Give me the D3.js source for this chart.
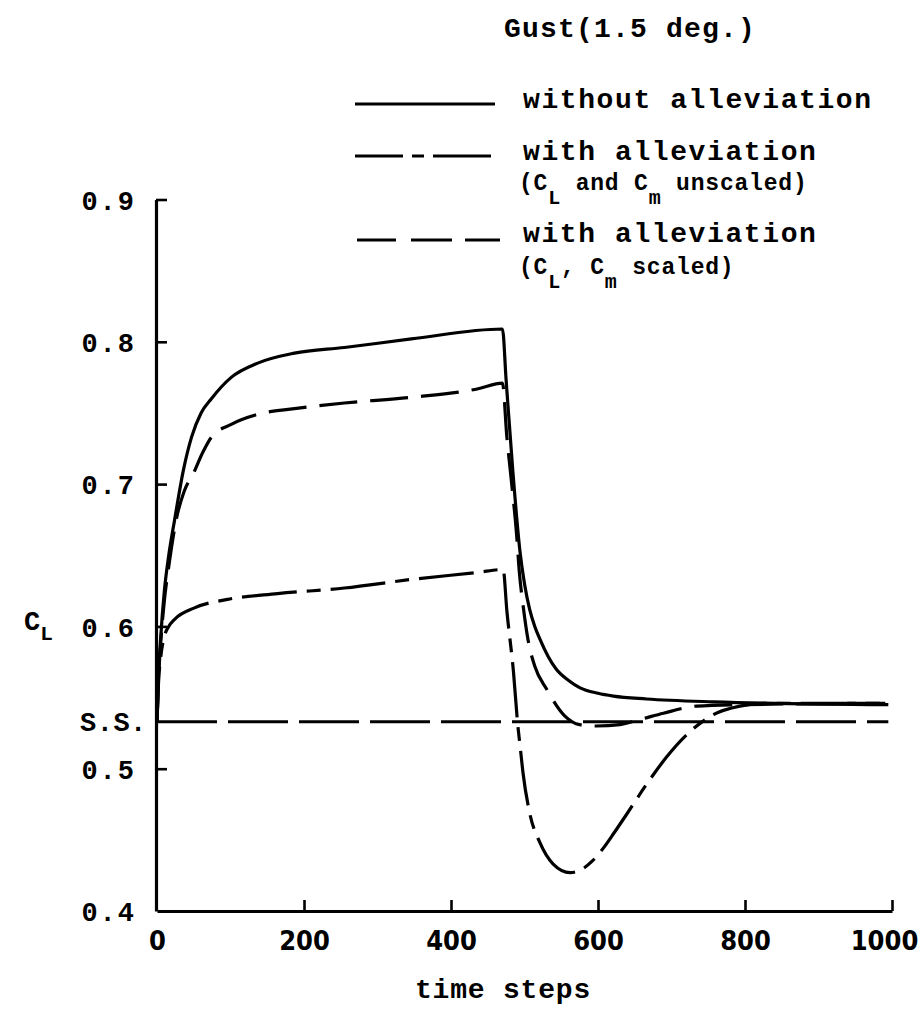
<!DOCTYPE html>
<html>
<head>
<meta charset="utf-8">
<script src="https://cdn.jsdelivr.net/npm/d3@7/dist/d3.min.js"></script>
<style>
  html, body { margin: 0; padding: 0; background: #fff; }
  svg { display: block; }
  .mono { font-family: "Liberation Mono", "DejaVu Sans Mono", monospace; font-weight: bold; fill: #000; }
</style>
</head>
<body>
<svg id="chart" width="919" height="1012"></svg>
<script>
// ---------- data ----------
const xTicks = [0, 200, 400, 600, 800, 1000];
const yTicks = [0.4, 0.5, 0.6, 0.7, 0.8, 0.9];
const steadyState = 0.533;   // "S.S." reference level

// without alleviation (solid)
const withoutAlleviation = [
  [0,0.533],[2,0.565],[5,0.592],[10,0.625],[16,0.65],[24,0.675],[36,0.71],[47,0.733],
  [60,0.75],[74,0.76],[101,0.775],[137,0.785],[187,0.792],[255,0.796],[346,0.802],[470,0.809],
  [475,0.773],[484,0.71],[494,0.652],[500,0.630],[507,0.612],[514,0.600],[521,0.591],
  [532,0.579],[543,0.570],[560,0.562],[575,0.557],[600,0.553],[621,0.551],[666,0.549],
  [757,0.547],[995,0.545]
];
// with alleviation, CL and Cm unscaled (dash-dot)
const withAlleviationUnscaled = [
  [0,0.533],[2,0.56],[5,0.578],[10,0.593],[16,0.600],[24,0.605],[51,0.613],[96,0.619],
  [164,0.623],[255,0.627],[346,0.633],[437,0.638],[471,0.640],[476,0.611],[485,0.568],
  [491,0.530],[494,0.516],[498,0.497],[507,0.469],[521,0.448],[539,0.433],[562,0.427],
  [577,0.429],[592,0.435],[607,0.444],[622,0.455],[639,0.468],[666,0.489],[693,0.508],
  [721,0.524],[757,0.538],[793,0.544],[830,0.546],[995,0.546]
];
// with alleviation, CL, Cm scaled (long dash)
const withAlleviationScaled = [
  [0,0.533],[2,0.562],[5,0.588],[10,0.618],[16,0.642],[27,0.677],[37,0.695],[50,0.708],
  [62,0.722],[74,0.733],[101,0.742],[137,0.749],[187,0.753],[255,0.757],[346,0.761],
  [437,0.767],[470,0.771],[476,0.733],[482,0.703],[489,0.666],[493,0.638],[498,0.615],
  [505,0.59],[514,0.572],[530,0.556],[555,0.537],[575,0.531],[598,0.530],[630,0.531],
  [660,0.535],[689,0.539],[734,0.544],[793,0.545],[995,0.546]
];

// ---------- chart ----------
const svg = d3.select("#chart");
const x = d3.scaleLinear().domain([0, 1000]).range([157, 892]);
const y = d3.scaleLinear().domain([0.4, 0.9]).range([911, 199.5]);

// axes
const yAxis = d3.axisLeft(y).tickValues(yTicks).tickFormat(d3.format(".1f"))
  .tickSizeInner(-11).tickSizeOuter(0).tickPadding(20);
const xAxis = d3.axisBottom(x).tickValues(xTicks).tickFormat(d3.format("d"))
  .tickSizeInner(-11).tickSizeOuter(0).tickPadding(20);

const gy = svg.append("g").attr("transform", "translate(156,0)").call(yAxis);
const gx = svg.append("g").attr("transform", "translate(0,911)").call(xAxis);

[gx, gy].forEach(g => {
  g.select(".domain").attr("stroke", "#000").attr("stroke-width", 3.2);
  g.selectAll(".tick line").attr("stroke", "#000").attr("stroke-width", 2.6);
});
gy.selectAll(".tick line").filter(d => d === 0.4).remove();
gx.selectAll(".tick line").filter(d => d === 0).remove();

gy.selectAll(".tick text")
  .attr("class", "mono")
  .attr("font-size", 27)
  .attr("letter-spacing", 2)
  .attr("dy", "0.36em");
gx.selectAll(".tick text")
  .attr("font-family", "'DejaVu Sans Condensed', 'Liberation Sans Narrow', 'DejaVu Sans', sans-serif")
  .attr("font-weight", "bold")
  .attr("font-size", 27)
  .attr("fill", "#000")
  .attr("dx", d => d === 1000 ? -8 : 0);

// S.S. label
svg.append("text").attr("class", "mono")
  .attr("x", 80).attr("y", y(steadyState)).attr("dy", "0.36em")
  .attr("font-size", 27).attr("letter-spacing", 0.5)
  .text("S.S.");

// lines
const line = d3.line().x(d => x(d[0])).y(d => y(d[1])).curve(d3.curveMonotoneX);

svg.append("line")
  .attr("x1", x(0)).attr("x2", x(995))
  .attr("y1", y(steadyState)).attr("y2", y(steadyState))
  .attr("stroke", "#000").attr("stroke-width", 3.2)
  .attr("stroke-dasharray", "60,11");

const series = [
  { data: withoutAlleviation, dash: null },
  { data: withAlleviationScaled, dash: "38,13" },
  { data: withAlleviationUnscaled, dash: "55,10,14,10" }
];
series.forEach(s => {
  svg.append("path")
    .attr("d", line(s.data))
    .attr("fill", "none")
    .attr("stroke", "#000")
    .attr("stroke-width", 3.2)
    .attr("stroke-linejoin", "round")
    .attr("stroke-dasharray", s.dash);
});

// axis titles
const yl = svg.append("text").attr("class", "mono").attr("x", 24).attr("y", 630).attr("font-size", 27);
yl.append("tspan").text("C");
yl.append("tspan").attr("font-size", 21).attr("dy", 10).text("L");

svg.append("text").attr("class", "mono")
  .attr("x", 503).attr("y", 998).attr("text-anchor", "middle")
  .attr("font-size", 28).attr("letter-spacing", 0.8)
  .text("time steps");

// title
svg.append("text").attr("class", "mono")
  .attr("x", 504).attr("y", 37).attr("font-size", 28).attr("letter-spacing", 1.2)
  .text("Gust(1.5 deg.)");

// legend
const legendLines = [
  { x1: 355, x2: 495, y: 104, dash: null },
  { x1: 355, x2: 491, y: 156, dash: "48,9,12,9,60" },
  { x1: 357, x2: 500, y: 240, dash: "39,15,41,13,35" }
];
legendLines.forEach(l => {
  svg.append("line").attr("x1", l.x1).attr("x2", l.x2).attr("y1", l.y).attr("y2", l.y)
    .attr("stroke", "#000").attr("stroke-width", 3.2).attr("stroke-dasharray", l.dash);
});

svg.append("text").attr("class", "mono").attr("x", 523).attr("y", 108)
  .attr("font-size", 28).attr("letter-spacing", 1.6).text("without alleviation");
svg.append("text").attr("class", "mono").attr("x", 523).attr("y", 160)
  .attr("font-size", 28).attr("letter-spacing", 1.6).text("with alleviation");
svg.append("text").attr("class", "mono").attr("x", 523).attr("y", 242)
  .attr("font-size", 28).attr("letter-spacing", 1.6).text("with alleviation");

function subLabel(xp, yp, parts) {
  const t = svg.append("text").attr("class", "mono").attr("x", xp).attr("y", yp)
    .attr("font-size", 23).attr("letter-spacing", 0.8);
  parts.forEach(p => {
    if (p.sub) {
      t.append("tspan").attr("font-size", 20).attr("dy", 14).text(p.text);
    } else {
      t.append("tspan").attr("dy", p.back ? -14 : 0).text(p.text);
    }
  });
}
subLabel(519, 190, [
  { text: "(C" }, { text: "L", sub: true }, { text: " and C", back: true },
  { text: "m", sub: true }, { text: " unscaled)", back: true }
]);
subLabel(519, 274, [
  { text: "(C" }, { text: "L", sub: true }, { text: ", C", back: true },
  { text: "m", sub: true }, { text: " scaled)", back: true }
]);
</script>
</body>
</html>
